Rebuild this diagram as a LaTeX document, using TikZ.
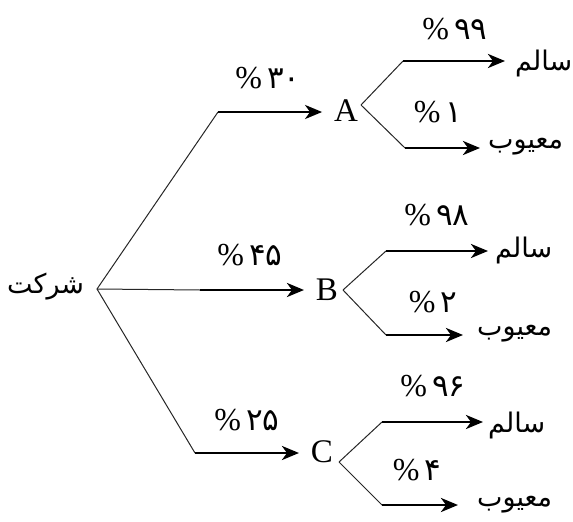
\documentclass[tikz,border=0pt]{standalone}
\usepackage{fontspec}
\setmainfont{Liberation Serif}
\newfontfamily\fa[Script=Arabic]{DejaVu Sans}
\TeXXeTstate=1
\usetikzlibrary{arrows.meta}

% percentage label: Latin percent sign followed by Persian digits
\newcommand{\pcval}[1]{\%{\fa\fontsize{31}{31}\selectfont\,#1}}

\begin{document}
\begin{tikzpicture}[x=1pt,y=-1pt,
  link/.style={line width=1pt, draw=black!85},
  arr/.style={line width=2.8pt, -{Stealth[length=17pt,width=14pt,inset=5pt]}},
  letter/.style={font=\fontsize{33}{33}\selectfont, inner sep=0pt, outer xsep=12pt},
  word/.style={font=\fa\fontsize{27}{30}\selectfont, inner sep=0pt},
  pct/.style={font=\fontsize{32}{32}\selectfont, inner sep=0pt}]
\useasboundingbox (0,0) rectangle (573,522);

% root of the tree
\node[word, anchor=west] (root) at (7,287) {\fa\beginR شرکت\endR};
\coordinate (fork) at (97,289);

% first level: the three factories
\node[letter] (A) at (346,111) {A};
\node[letter] (B) at (327,290) {B};
\node[letter] (C) at (322,452) {C};

\coordinate (bA) at (218,112);
\coordinate (bB) at (200,290);
\coordinate (bC) at (195,453);

\draw[link] (fork) -- (bA);
\draw[link] (fork) -- (bB);
\draw[link] (fork) -- (bC);
\draw[arr] (bA) -- (bA -| A.west);
\draw[arr] (bB) -- (bB -| B.west);
\draw[arr] (bC) -- (bC -| C.west);

\node[pct] (pA) at (268,78) {\pcval{۳۰}};
\node[pct] (pB) at (250,255) {\pcval{۴۵}};
\node[pct] (pC) at (247,420) {\pcval{۲۵}};

% second level: sound / defective
\coordinate (kA) at (361,105);
\coordinate (kB) at (343,290);
\coordinate (kC) at (339,462);

\coordinate (uA) at (403,61);
\coordinate (dA) at (405,148);
\coordinate (uB) at (386,251);
\coordinate (dB) at (386,335);
\coordinate (uC) at (382,422);
\coordinate (dC) at (382,505);

\node[word, anchor=west] (sA) at (515,63) {\fa\beginR سالم\endR};
\node[word, anchor=west] (fA) at (488,147) {\fa\beginR معیوب\endR};
\node[word, anchor=west] (sB) at (495,250) {\fa\beginR سالم\endR};
\node[word, anchor=west] (fB) at (477,334) {\fa\beginR معیوب\endR};
\node[word, anchor=west] (sC) at (488,425) {\fa\beginR سالم\endR};
\node[word, anchor=west] (fC) at (477,505) {\fa\beginR معیوب\endR};

\draw[link] (kA) -- (uA);
\draw[link] (kA) -- (dA);
\draw[link] (kB) -- (uB);
\draw[link] (kB) -- (dB);
\draw[link] (kC) -- (uC);
\draw[link] (kC) -- (dC);

\draw[arr, shorten >=10pt] (uA) -- (uA -| sA.west);
\draw[arr, shorten >=8pt]  (dA) -- (dA -| fA.west);
\draw[arr, shorten >=7pt]  (uB) -- (uB -| sB.west);
\draw[arr, shorten >=14pt] (dB) -- (dB -| fB.west);
\draw[arr, shorten >=5pt]  (uC) -- (uC -| sC.west);
\draw[arr, shorten >=19pt] (dC) -- (dC -| fC.west);

\node[pct] (pA1) at (455,29)  {\pcval{۹۹}};
\node[pct] (pA2) at (438,112) {\pcval{۱}};
\node[pct] (pB1) at (437,215) {\pcval{۹۸}};
\node[pct] (pB2) at (433,302) {\pcval{۲}};
\node[pct] (pC1) at (433,386) {\pcval{۹۶}};
\node[pct] (pC2) at (417,470) {\pcval{۴}};
\end{tikzpicture}
\end{document}
